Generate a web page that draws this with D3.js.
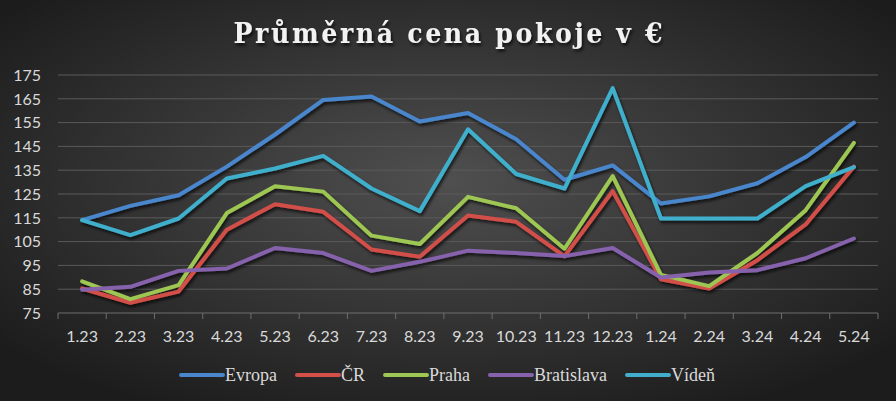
<!DOCTYPE html>
<html>
<head>
<meta charset="utf-8">
<script src="https://cdn.jsdelivr.net/npm/d3@7"></script>
<style>
  html, body { margin: 0; padding: 0; background: #2a2a2a; }
  svg { display: block; }
</style>
</head>
<body>
<div id="chart"></div>
<script>
const months = ['1.23', '2.23', '3.23', '4.23', '5.23', '6.23', '7.23', '8.23', '9.23',
    '10.23', '11.23', '12.23', '1.24', '2.24', '3.24', '4.24', '5.24'];
const yTicks = [75, 85, 95, 105, 115, 125, 135, 145, 155, 165, 175];

const evropa     = [114, 120, 124.5, 136.5, 150, 164.5, 166, 155.5, 159, 148, 131, 137, 121, 124, 129.5, 140.5, 155];
const cr         = [85.3, 79.3, 84, 110, 120.7, 117.5, 101.7, 98.6, 116, 113.3, 98.8, 126.2, 89.2, 85.3, 97.2, 112.2, 136.5];
const praha      = [88.3, 80.8, 86.7, 117, 128.3, 126, 107.5, 104, 123.8, 119, 102, 132.5, 91, 86.3, 100.2, 118.2, 146.5];
const bratislava = [84.8, 86, 92.7, 93.7, 102.3, 100.2, 92.7, 96.5, 101.2, 100.2, 98.9, 102.3, 89.9, 92, 93, 98, 106.3];
const viden      = [114, 107.7, 114.7, 131.5, 135.7, 141, 127.3, 117.8, 152.2, 133.4, 127.3, 169.5, 114.7, 114.7, 114.7, 128.3, 136.3];

const seriesNames = ['Evropa', 'ČR', 'Praha', 'Bratislava', 'Vídeň'];
const seriesValues = [evropa, cr, praha, bratislava, viden];
const seriesColors = ['#4a86cc', '#d24f4a', '#9ec653', '#8662ad', '#41afcc'];

const W = 896, H = 401;
const plot = { left: 58, right: 878, top: 75, bottom: 313 };

const svg = d3.select('#chart').append('svg')
    .attr('width', W)
    .attr('height', H);

const defs = svg.append('defs');
const bg = defs.append('radialGradient')
    .attr('id', 'bg')
    .attr('cx', '50%').attr('cy', '45%').attr('r', '65%');
bg.append('stop').attr('offset', '0%').attr('stop-color', '#4f4f4f');
bg.append('stop').attr('offset', '100%').attr('stop-color', '#1c1c1c');

const shadow = defs.append('filter')
    .attr('id', 'shadow')
    .attr('x', '-10%').attr('y', '-10%').attr('width', '120%').attr('height', '130%');
shadow.append('feDropShadow')
    .attr('dx', 1.5).attr('dy', 2.5)
    .attr('stdDeviation', 1.8)
    .attr('flood-color', '#000')
    .attr('flood-opacity', 0.7);

svg.append('rect')
    .attr('width', W).attr('height', H)
    .attr('fill', 'url(#bg)');

// title
svg.append('text')
    .attr('x', W / 2)
    .attr('y', 43)
    .attr('text-anchor', 'middle')
    .attr('font-family', '"DejaVu Serif Condensed", "Liberation Serif", serif')
    .attr('font-stretch', 'condensed')
    .attr('font-weight', 'bold')
    .attr('font-size', 28)
    .attr('fill', '#f2f2f2')
    .attr('textLength', 429)
    .attr('lengthAdjust', 'spacing')
    .attr('filter', 'url(#shadow)')
    .text('Průměrná cena pokoje v €');

const x = d3.scaleBand()
    .domain(months)
    .range([plot.left, plot.right])
    .padding(0);

const y = d3.scaleLinear()
    .domain([75, 175])
    .range([plot.bottom, plot.top]);

// gridlines
svg.append('g')
    .selectAll('line')
    .data(yTicks.slice(1))
    .join('line')
    .attr('x1', plot.left).attr('x2', plot.right)
    .attr('y1', d => y(d)).attr('y2', d => y(d))
    .attr('stroke', '#5a5a5a')
    .attr('stroke-width', 1);

// y labels
svg.append('g')
    .selectAll('text')
    .data(yTicks)
    .join('text')
    .attr('x', 41)
    .attr('y', d => y(d))
    .attr('dy', '0.36em')
    .attr('text-anchor', 'end')
    .attr('font-family', 'Lato, "Open Sans", sans-serif')
    .attr('font-size', 16)
    .attr('fill', '#d9d9d9')
    .text(d => d);

// x axis
const xAxis = svg.append('g');
xAxis.append('line')
    .attr('x1', plot.left).attr('x2', plot.right)
    .attr('y1', plot.bottom).attr('y2', plot.bottom)
    .attr('stroke', '#6e6e6e');
const tickPos = months.map(m => x(m)).concat([plot.right]);
xAxis.selectAll('line.tick')
    .data(tickPos)
    .join('line')
    .attr('class', 'tick')
    .attr('x1', d => d).attr('x2', d => d)
    .attr('y1', plot.bottom).attr('y2', plot.bottom + 6)
    .attr('stroke', '#6e6e6e');
xAxis.selectAll('text')
    .data(months)
    .join('text')
    .attr('x', d => x(d) + x.bandwidth() / 2)
    .attr('y', 342)
    .attr('text-anchor', 'middle')
    .attr('font-family', 'Lato, "Open Sans", sans-serif')
    .attr('font-size', 16)
    .attr('fill', '#d9d9d9')
    .text(d => d);

// lines
const line = d3.line()
    .x((d, i) => x(months[i]) + x.bandwidth() / 2)
    .y(d => y(d));

const lines = svg.append('g').attr('filter', 'url(#shadow)');
seriesValues.forEach((vals, i) => {
    lines.append('path')
        .attr('d', line(vals))
        .attr('fill', 'none')
        .attr('stroke', seriesColors[i])
        .attr('stroke-width', 4)
        .attr('stroke-linejoin', 'round')
        .attr('stroke-linecap', 'round');
});

// legend
const legend = svg.append('g');
let lx = 0;
seriesNames.forEach((name, i) => {
    const item = legend.append('g').attr('transform', `translate(${lx},0)`);
    item.append('line')
        .attr('x1', 0).attr('x2', 42)
        .attr('y1', 375).attr('y2', 375)
        .attr('stroke', seriesColors[i])
        .attr('stroke-width', 4)
        .attr('stroke-linecap', 'round');
    const t = item.append('text')
        .attr('x', 44)
        .attr('y', 381)
        .attr('font-family', '"Liberation Serif", "DejaVu Serif", serif')
        .attr('font-size', 18)
        .attr('fill', '#d9d9d9')
        .text(name);
    lx += 44 + t.node().getComputedTextLength() + 20;
});
const legendW = lx - 20;
legend.attr('transform', `translate(${(W - legendW) / 2},0)`);
</script>
</body>
</html>
